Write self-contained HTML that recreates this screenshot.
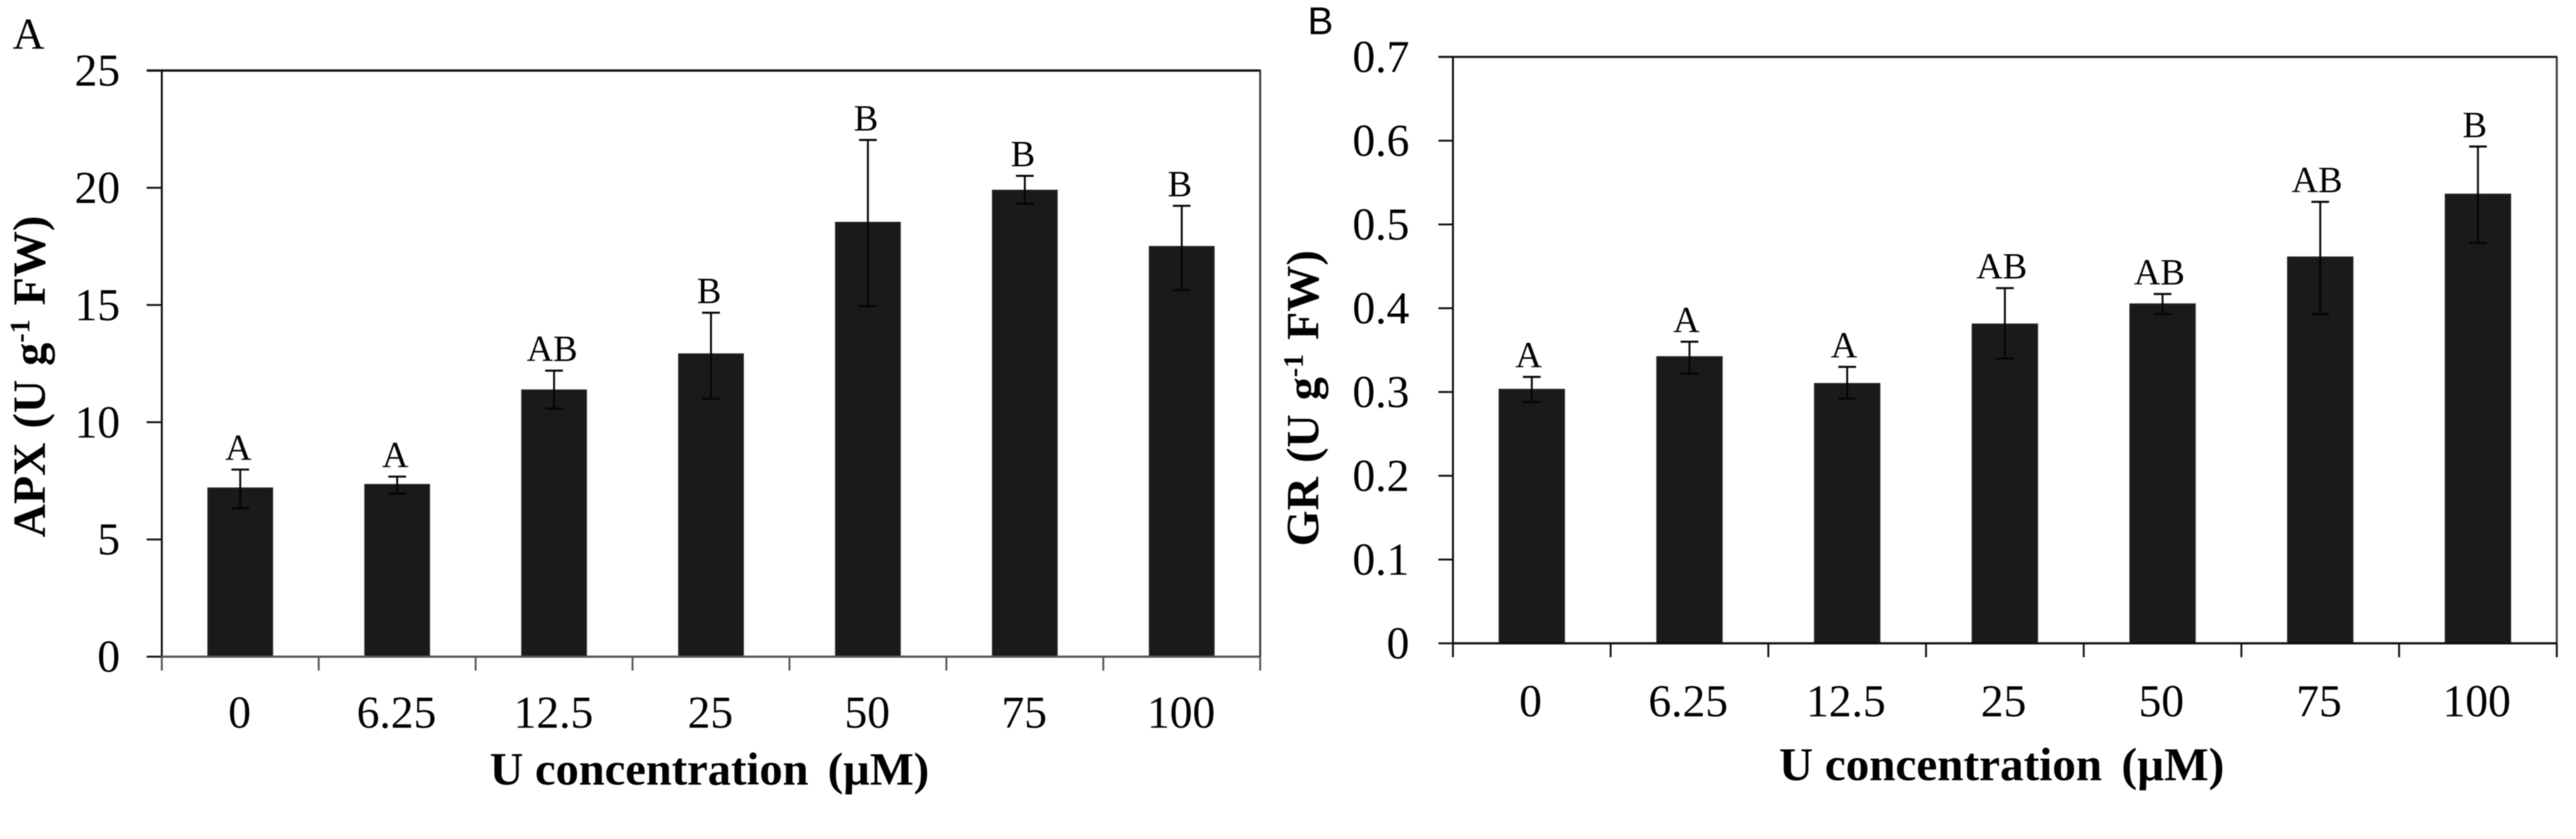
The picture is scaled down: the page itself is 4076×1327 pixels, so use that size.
<!DOCTYPE html>
<html lang="en">
<head>
<meta charset="utf-8">
<title>APX and GR activity versus U concentration</title>
<style>
html,body{margin:0;padding:0;background:#fff;}
body{width:4076px;height:1327px;overflow:hidden;}
svg{display:block;}
text{font-family:"Liberation Serif",serif;fill:#000;}
.sans{font-family:"Liberation Sans",sans-serif;}
.title{font-weight:bold;}
</style>
</head>
<body>
<svg id="figure" xmlns="http://www.w3.org/2000/svg" width="4076" height="1327" viewBox="0 0 4076 1327" style="filter:blur(0.7px)">
  <rect x="0" y="0" width="4076" height="1327" fill="#ffffff"/>

  <g id="panel-a"></g>
  <g id="panel-b"></g>

  <text x="20" y="77" font-size="70">A</text>
  <text class="sans" x="2069" y="54" font-size="61">B</text>

  <text class="title" transform="translate(71 850) rotate(-90)" font-size="73" style="word-spacing:4px">APX (U g<tspan dy="-25" font-size="44">-1</tspan><tspan dy="25"> FW)</tspan></text>
  <text class="title" transform="translate(2086 864) rotate(-90)" font-size="73" style="word-spacing:4px">GR (U g<tspan dy="-25" font-size="44">-1</tspan><tspan dy="25"> FW)</tspan></text>

  <text class="title" x="775" y="1241" font-size="73.5">U concentration <tspan dx="12">(µM)</tspan></text>
  <text class="title" x="2815" y="1234" font-size="74.5">U concentration <tspan dx="12">(µM)</tspan></text>
</svg>

<script>
const categories = ['0', '6.25', '12.5', '25', '50', '75', '100'];

const apxTicks = [0, 5, 10, 15, 20, 25];
const apxValues = [7.19, 7.34, 11.37, 12.91, 18.52, 19.89, 17.49];
const apxUpper = [7.98, 7.68, 12.2, 14.67, 22.04, 20.51, 19.23];
const apxLower = [6.33, 6.95, 10.58, 11.0, 14.95, 19.32, 15.64];
const apxLetters = ['A', 'A', 'AB', 'B', 'B', 'B', 'B'];

const grTicks = [0, 0.1, 0.2, 0.3, 0.4, 0.5, 0.6, 0.7];
const grValues = [0.303, 0.342, 0.31, 0.381, 0.405, 0.461, 0.536];
const grUpper = [0.318, 0.36, 0.33, 0.424, 0.417, 0.527, 0.593];
const grLower = [0.288, 0.322, 0.292, 0.34, 0.393, 0.393, 0.478];
const grLetters = ['A', 'A', 'A', 'AB', 'AB', 'AB', 'B'];

const SVG_NS = 'http://www.w3.org/2000/svg';

function line(parent, x1, y1, x2, y2, stroke, width) {
  const el = document.createElementNS(SVG_NS, 'line');
  el.setAttribute('x1', x1);
  el.setAttribute('y1', y1);
  el.setAttribute('x2', x2);
  el.setAttribute('y2', y2);
  el.setAttribute('stroke', stroke);
  el.setAttribute('stroke-width', width);
  parent.appendChild(el);
  return el;
}

function label(parent, x, y, content, size, anchor) {
  const el = document.createElementNS(SVG_NS, 'text');
  el.setAttribute('x', x);
  el.setAttribute('y', y);
  el.setAttribute('font-size', size);
  el.setAttribute('text-anchor', anchor);
  el.textContent = content;
  parent.appendChild(el);
  return el;
}

function drawPanel(group, prefix, geo, ticks, values, upper, lower, letters) {
  const yMax = ticks[ticks.length - 1];
  const yScale = v => geo.bottom - (v / yMax) * (geo.bottom - geo.top);
  const slot = (geo.right - geo.left) / categories.length;
  const xScale = i => geo.left + slot * (i + 0.5);

  // Bars first so the axes and error bars sit on top.
  values.forEach((v, i) => {
    const bar = document.createElementNS(SVG_NS, 'rect');
    bar.setAttribute('x', xScale(i) - geo.barWidth / 2);
    bar.setAttribute('y', yScale(v));
    bar.setAttribute('width', geo.barWidth);
    bar.setAttribute('height', geo.bottom - yScale(v));
    bar.setAttribute('fill', '#1a1a1a');
    bar.setAttribute('stroke', '#222');
    bar.setAttribute('stroke-width', '2');
    
    
    group.appendChild(bar);
  });

  // Error bars
  values.forEach((v, i) => {
    const x = xScale(i);
    const hi = yScale(upper[i]);
    const lo = yScale(lower[i]);
    const err = document.createElementNS(SVG_NS, 'g');
    
    
    line(err, x, hi, x, lo, '#050505', 3);
    line(err, x - 14, hi, x + 14, hi, '#050505', 3.2);
    line(err, x - 14, lo, x + 14, lo, '#050505', 3.2);
    group.appendChild(err);
  });

  // Significance letters follow the top of each error bar.
  letters.forEach((t, i) => {
    const el = label(group, xScale(i) + geo.letterDx, yScale(upper[i]) - 15, t, 58, 'middle');
    
    
  });

  // Plot frame
  const topLine = line(group, geo.tickLeft, geo.top, geo.right + 1, geo.top, '#111', geo.topWidth);
  
  

  const rightLine = line(group, geo.right, geo.top, geo.right, geo.bottom, '#333', 3);
  
  

  const yAxis = line(group, geo.left, geo.top, geo.left, geo.bottom, '#0a0a0a', 3);
  
  

  const xAxis = line(group, geo.left, geo.bottom, geo.right, geo.bottom, geo.xColor, 3.5);
  
  

  // Y ticks and labels
  ticks.forEach(t => {
    const y = yScale(t);
    const mark = line(group, geo.tickLeft, y, geo.left, y, '#111', 3);
    
    
    const txt = label(group, geo.yLabelX, y + 24, String(t), 72, 'end');
    
    
  });

  // X ticks sit on the category boundaries.
  for (let i = 0; i <= categories.length; i++) {
    const x = geo.left + slot * i;
    const mark = line(group, x, geo.bottom, x, geo.bottom + 22, geo.xColor, 3);
    
    
  }

  // X tick labels
  categories.forEach((c, i) => {
    const txt = label(group, xScale(i) + geo.catDx, geo.catY, c, 72, 'middle');
    
    
  });
}

drawPanel(document.getElementById('panel-a'), 'panel-a', {
  left: 256, right: 1994, top: 111.6, bottom: 1038.6,
  tickLeft: 232, yLabelX: 190, barWidth: 102, catY: 1151,
  catDx: -1, letterDx: -3, xColor: '#555', topWidth: 3.6
}, apxTicks, apxValues, apxUpper, apxLower, apxLetters);

drawPanel(document.getElementById('panel-b'), 'panel-b', {
  left: 2299, right: 4045.6, top: 90, bottom: 1017.5,
  tickLeft: 2276, yLabelX: 2230, barWidth: 103, catY: 1133,
  catDx: -2, letterDx: -5, xColor: '#111', topWidth: 3.2
}, grTicks, grValues, grUpper, grLower, grLetters);
</script>
</body>
</html>
